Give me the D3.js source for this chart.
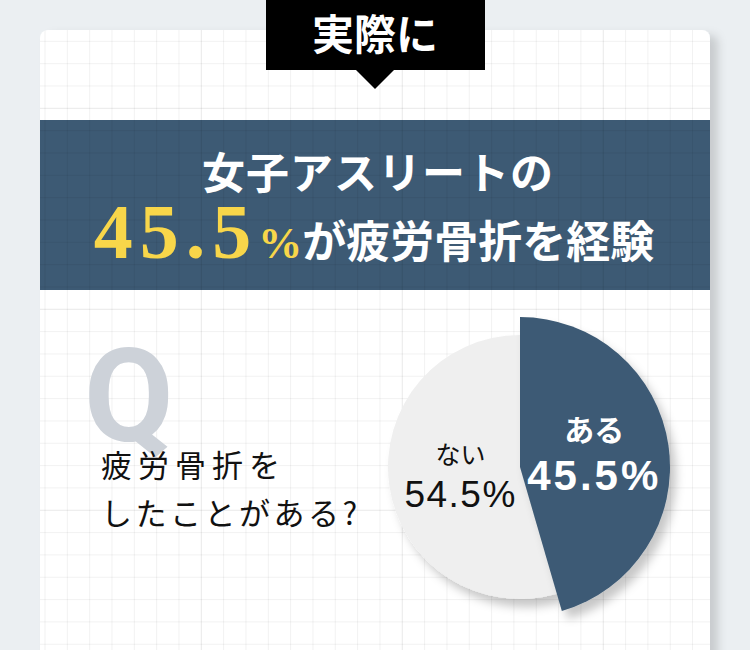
<!DOCTYPE html>
<html>
<head>
<meta charset="utf-8">
<script src="https://cdn.jsdelivr.net/npm/d3@7"></script>
<style>
  html, body { margin: 0; padding: 0; background: #ebeff2; }
  svg { display: block; }
</style>
</head>
<body>
<svg id="chart"></svg>
<script>
var width = 750,
    height = 650;

// answers to the question, in drawing order (clockwise from 12 o'clock)
const answers = ["ある", "ない"];
const shares = [45.5, 54.5];
const answerColors = ["#3d5a74", "#efefef"];

// texts
const badgeText = "実際に";
const titleLine1 = "女子アスリートの";
const titleValue = "45.5";
const titleRest = "が疲労骨折を経験";
const questionLines = ["疲労骨折を", "したことがある?"];

const svg = d3.select("#chart")
    .attr("width", width)
    .attr("height", height);

const defs = svg.append("defs");

// soft shadow for the card
const cardShadow = defs.append("filter").attr("id", "cardShadow")
    .attr("x", "-10%").attr("y", "-10%").attr("width", "130%").attr("height", "130%");
cardShadow.append("feDropShadow")
    .attr("dx", 8).attr("dy", 5).attr("stdDeviation", 5)
    .attr("flood-color", "#000").attr("flood-opacity", 0.15);

// shadow under the pie
const pieShadow = defs.append("filter").attr("id", "pieShadow")
    .attr("x", "-20%").attr("y", "-20%").attr("width", "150%").attr("height", "150%");
pieShadow.append("feDropShadow")
    .attr("dx", 6).attr("dy", 8).attr("stdDeviation", 5)
    .attr("flood-color", "#000").attr("flood-opacity", 0.22);

defs.append("clipPath").attr("id", "cardClip")
    .append("rect")
    .attr("x", 40).attr("y", 30)
    .attr("width", 670).attr("height", 660)
    .attr("rx", 8);

// card
svg.append("rect")
    .attr("x", 40).attr("y", 30)
    .attr("width", 670).attr("height", 660)
    .attr("rx", 8)
    .attr("fill", "#fff")
    .attr("filter", "url(#cardShadow)");

const card = svg.append("g").attr("clip-path", "url(#cardClip)");

// title band
card.append("rect")
    .attr("x", 40).attr("y", 120)
    .attr("width", 670).attr("height", 170)
    .attr("fill", "#3d5a74");

// graph paper grid
var cell = 22.33;
var vx = d3.range(0, 31).map((i) => { return { p: 45 + i * cell, major: i % 9 === 7 }; });
var hy = d3.range(0, 30).map((i) => { return { p: 19 + i * cell, major: i % 9 === 4 }; });

card.selectAll("line.v")
    .data(vx)
    .enter().append("line")
    .attr("class", "v")
    .attr("x1", (d) => d.p).attr("x2", (d) => d.p)
    .attr("y1", 30).attr("y2", 690)
    .attr("stroke", "#000")
    .attr("stroke-opacity", (d) => d.major ? 0.09 : 0.055)
    .attr("stroke-width", 1);

card.selectAll("line.h")
    .data(hy)
    .enter().append("line")
    .attr("class", "h")
    .attr("y1", (d) => d.p).attr("y2", (d) => d.p)
    .attr("x1", 40).attr("x2", 710)
    .attr("stroke", "#000")
    .attr("stroke-opacity", (d) => d.major ? 0.09 : 0.055)
    .attr("stroke-width", 1);

// black badge with pointer
svg.append("rect")
    .attr("x", 266).attr("y", 0)
    .attr("width", 219).attr("height", 70)
    .attr("fill", "#000");
svg.append("path")
    .attr("d", d3.line()([[355, 69], [395, 69], [375, 89]]))
    .attr("fill", "#000");
svg.append("text")
    .attr("x", 375).attr("y", 50)
    .attr("text-anchor", "middle")
    .attr("font-family", "'Noto Sans CJK JP', sans-serif")
    .attr("font-weight", 700)
    .attr("font-size", 42)
    .attr("fill", "#fff")
    .text(badgeText);

// headline
svg.append("text")
    .attr("x", 378).attr("y", 189)
    .attr("text-anchor", "middle")
    .attr("font-family", "'Noto Sans CJK JP', sans-serif")
    .attr("font-weight", 700)
    .attr("font-size", 43)
    .attr("letter-spacing", 1)
    .attr("fill", "#fff")
    .text(titleLine1);

var line2 = svg.append("text")
    .attr("x", 374).attr("y", 258)
    .attr("text-anchor", "middle")
    .attr("font-weight", 700);
line2.append("tspan")
    .attr("font-family", "'Liberation Serif', serif")
    .attr("font-size", 78)
    .attr("letter-spacing", 7)
    .attr("fill", "#f8d64a")
    .text(titleValue);
line2.append("tspan")
    .attr("font-family", "'Liberation Serif', serif")
    .attr("font-size", 44)
    .attr("fill", "#f8d64a")
    .text("%");
line2.append("tspan")
    .attr("font-family", "'Noto Sans CJK JP', sans-serif")
    .attr("font-size", 44)
    .attr("fill", "#fff")
    .text(titleRest);

// big Q behind the question
svg.append("text")
    .attr("x", 84).attr("y", 441)
    .attr("font-family", "Roboto, sans-serif")
    .attr("font-weight", 700)
    .attr("font-size", 130)
    .attr("fill", "#cdd2d9")
    .text("Q");

svg.selectAll("text.question")
    .data(questionLines)
    .enter().append("text")
    .attr("class", "question")
    .attr("x", 101)
    .attr("y", (d, i) => 477 + i * 48)
    .attr("font-family", "'Noto Sans CJK JP', sans-serif")
    .attr("font-size", 31)
    .attr("letter-spacing", (d, i) => i === 0 ? 6 : 3.5)
    .attr("fill", "#111")
    .text((d) => d);

// pie
var cx = 520, cy = 467;
var rSmall = 132, rBig = 150;

var pieData = answers.map((a, i) => { return { label: a, value: shares[i], color: answerColors[i] }; });

var pie = d3.pie()
    .sort(null)
    .value((d) => d.value);

var arcs = pie(pieData);

var arc = d3.arc()
    .innerRadius(0)
    .outerRadius((d) => d.index === 0 ? rBig : rSmall);

var pieG = svg.append("g")
    .attr("transform", "translate(" + cx + "," + cy + ")");

// draw the small slice first so the big one sits on top
pieG.selectAll("path")
    .data(arcs.slice().reverse())
    .enter().append("path")
    .attr("d", arc)
    .attr("fill", (d) => d.data.color)
    .attr("filter", "url(#pieShadow)");

var labelArc = d3.arc()
    .innerRadius((d) => d.index === 0 ? 75 : 60)
    .outerRadius((d) => d.index === 0 ? 75 : 60);

var labels = pieG.selectAll("g.label")
    .data(arcs)
    .enter().append("g")
    .attr("class", "label")
    .attr("transform", (d) => "translate(" + labelArc.centroid(d) + ")");

labels.append("text")
    .attr("text-anchor", "middle")
    .attr("y", (d) => d.index === 0 ? -15 : -11)
    .attr("font-family", "'Noto Sans CJK JP', sans-serif")
    .attr("font-weight", (d) => d.index === 0 ? 700 : 400)
    .attr("font-size", (d) => d.index === 0 ? 30 : 25)
    .attr("fill", (d) => d.index === 0 ? "#fff" : "#111")
    .text((d) => d.data.label);

labels.append("text")
    .attr("text-anchor", "middle")
    .attr("y", (d) => d.index === 0 ? 34 : 32)
    .attr("font-family", "'Liberation Sans', Arial, sans-serif")
    .attr("font-weight", (d) => d.index === 0 ? 700 : 400)
    .attr("font-size", (d) => d.index === 0 ? 42 : 37)
    .attr("letter-spacing", (d) => d.index === 0 ? 3 : 1.5)
    .attr("fill", (d) => d.index === 0 ? "#fff" : "#111")
    .text((d) => d3.format(".1f")(d.data.value) + "%");
</script>
</body>
</html>
